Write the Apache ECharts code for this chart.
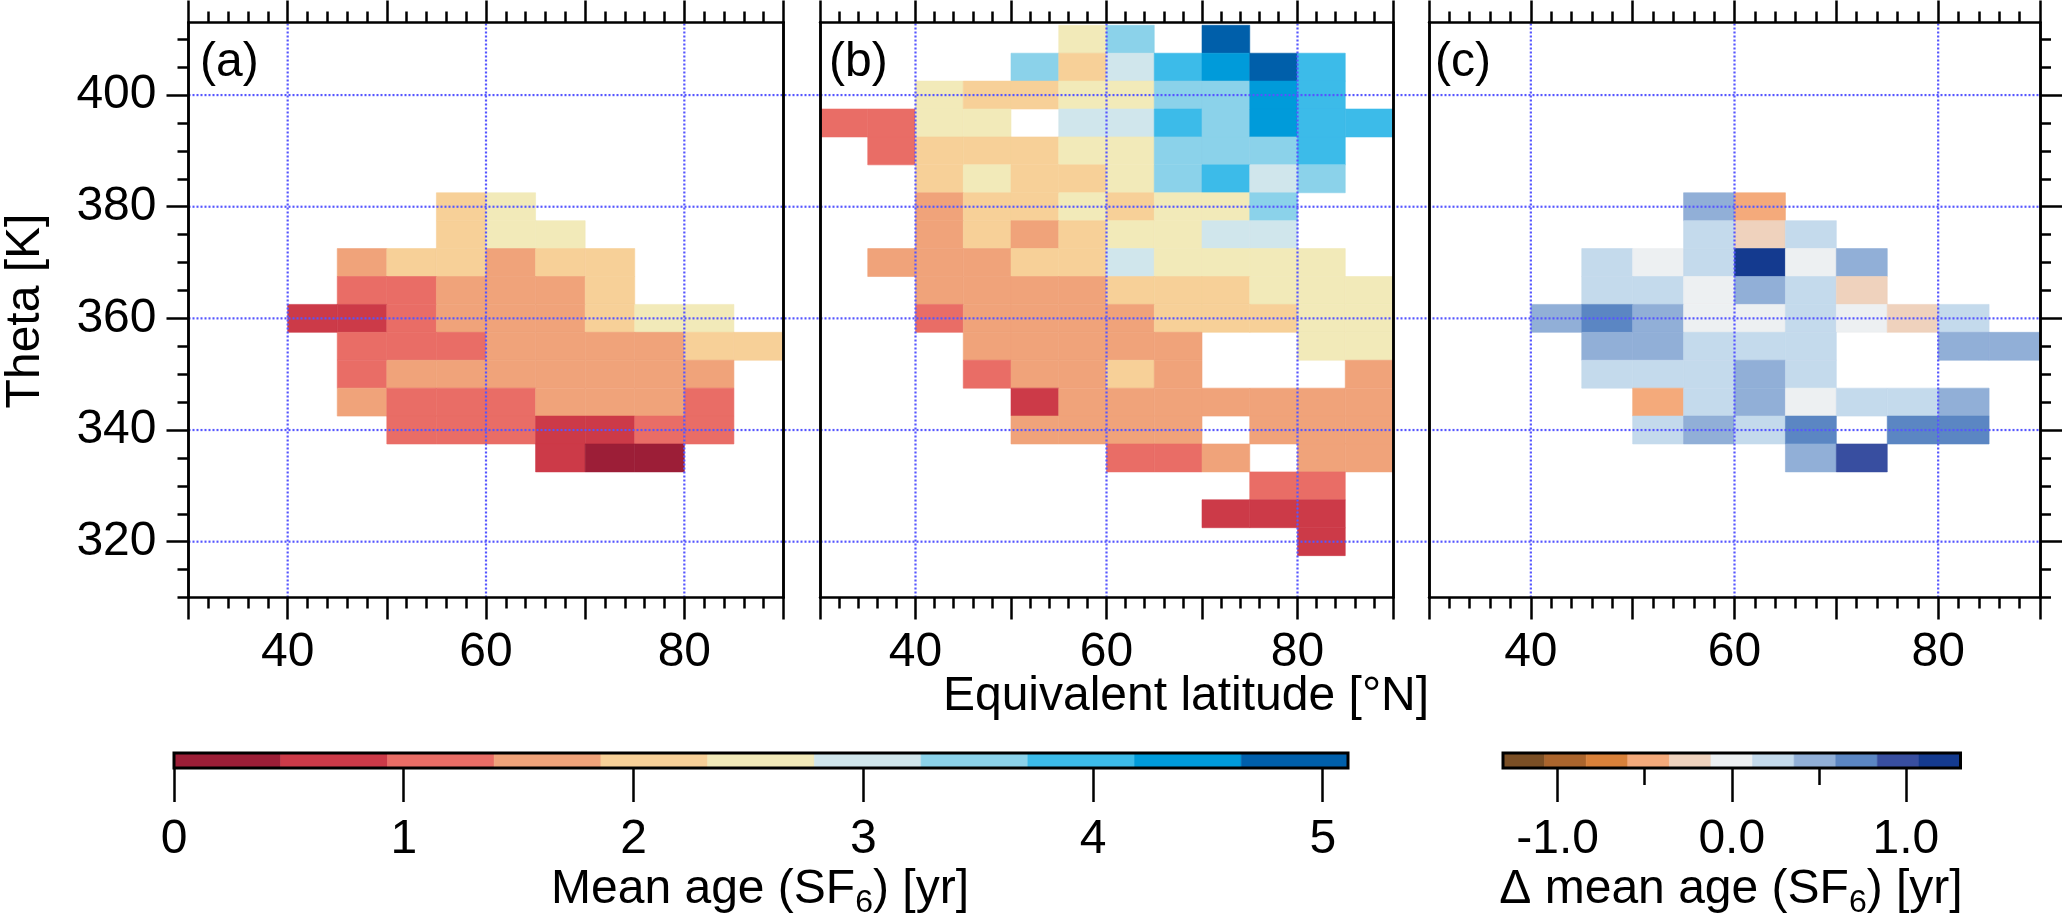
<!DOCTYPE html>
<html>
<head>
<meta charset="utf-8">
<script src="https://cdn.jsdelivr.net/npm/echarts@6/dist/echarts.min.js"></script>
<style>
  html, body { margin: 0; padding: 0; background: #fff; }
  #main { width: 2065px; height: 919px; }
</style>
</head>
<body>
<div id="main"></div>
<script>
const _ = null;

// 5 deg equivalent-latitude bins, 30-90 N (bin centres)
const latCenters = [32.5, 37.5, 42.5, 47.5, 52.5, 57.5, 62.5, 67.5, 72.5, 77.5, 82.5, 87.5];
// theta levels [K], one row per level, top to bottom
const thetaLevels = [410, 405, 400, 395, 390, 385, 380, 375, 370, 365, 360, 355, 350, 345, 340, 335, 330, 325, 320];

// (a) mean age [yr]
const ageA = [
  [_, _, _, _, _, _, _, _, _, _, _, _],
  [_, _, _, _, _, _, _, _, _, _, _, _],
  [_, _, _, _, _, _, _, _, _, _, _, _],
  [_, _, _, _, _, _, _, _, _, _, _, _],
  [_, _, _, _, _, _, _, _, _, _, _, _],
  [_, _, _, _, _, _, _, _, _, _, _, _],
  [_, _, _, _, _, 2.1, 2.5, _, _, _, _, _],
  [_, _, _, _, _, 2.1, 2.5, 2.5, _, _, _, _],
  [_, _, _, 1.6, 2.1, 2.1, 1.6, 2.1, 2.1, _, _, _],
  [_, _, _, 1.2, 1.2, 1.6, 1.6, 1.6, 2.1, _, _, _],
  [_, _, 0.7, 0.7, 1.2, 1.6, 1.6, 1.6, 2.1, 2.5, 2.5, _],
  [_, _, _, 1.2, 1.2, 1.2, 1.6, 1.6, 1.6, 1.6, 2.1, 2.1],
  [_, _, _, 1.2, 1.6, 1.6, 1.6, 1.6, 1.6, 1.6, 1.6, _],
  [_, _, _, 1.6, 1.2, 1.2, 1.2, 1.6, 1.6, 1.6, 1.2, _],
  [_, _, _, _, 1.2, 1.2, 1.2, 0.7, 0.7, 1.2, 1.2, _],
  [_, _, _, _, _, _, _, 0.7, 0.2, 0.2, _, _],
  [_, _, _, _, _, _, _, _, _, _, _, _],
  [_, _, _, _, _, _, _, _, _, _, _, _],
  [_, _, _, _, _, _, _, _, _, _, _, _]
];

// (b) mean age [yr]
const ageB = [
  [_, _, _, _, _, 2.5, 3.5, _, 4.9, _, _, _],
  [_, _, _, _, 3.5, 2.1, 3.0, 3.9, 4.4, 4.9, 3.9, _],
  [_, _, 2.5, 2.1, 2.1, 2.5, 2.5, 3.5, 3.5, 4.4, 3.9, _],
  [1.2, 1.2, 2.5, 2.5, _, 3.0, 3.0, 3.9, 3.5, 4.4, 3.9, 3.9],
  [_, 1.2, 2.1, 2.1, 2.1, 2.5, 2.5, 3.5, 3.5, 3.5, 3.9, _],
  [_, _, 2.1, 2.5, 2.1, 2.1, 2.5, 3.5, 3.9, 3.0, 3.5, _],
  [_, _, 1.6, 2.1, 2.1, 2.5, 2.1, 2.5, 2.5, 3.5, _, _],
  [_, _, 1.6, 2.1, 1.6, 2.1, 2.5, 2.5, 3.0, 3.0, _, _],
  [_, 1.6, 1.6, 1.6, 2.1, 2.1, 3.0, 2.5, 2.5, 2.5, 2.5, _],
  [_, _, 1.6, 1.6, 1.6, 1.6, 2.1, 2.1, 2.1, 2.5, 2.5, 2.5],
  [_, _, 1.2, 1.6, 1.6, 1.6, 1.6, 2.1, 2.1, 2.1, 2.5, 2.5],
  [_, _, _, 1.6, 1.6, 1.6, 1.6, 1.6, _, _, 2.5, 2.5],
  [_, _, _, 1.2, 1.6, 1.6, 2.1, 1.6, _, _, _, 1.6],
  [_, _, _, _, 0.7, 1.6, 1.6, 1.6, 1.6, 1.6, 1.6, 1.6],
  [_, _, _, _, 1.6, 1.6, 1.6, 1.6, _, 1.6, 1.6, 1.6],
  [_, _, _, _, _, _, 1.2, 1.2, 1.6, _, 1.6, 1.6],
  [_, _, _, _, _, _, _, _, _, 1.2, 1.2, _],
  [_, _, _, _, _, _, _, _, 0.7, 0.7, 0.7, _],
  [_, _, _, _, _, _, _, _, _, _, 0.7, _]
];

// (c) delta mean age [yr]
const dAgeC = [
  [_, _, _, _, _, _, _, _, _, _, _, _],
  [_, _, _, _, _, _, _, _, _, _, _, _],
  [_, _, _, _, _, _, _, _, _, _, _, _],
  [_, _, _, _, _, _, _, _, _, _, _, _],
  [_, _, _, _, _, _, _, _, _, _, _, _],
  [_, _, _, _, _, _, _, _, _, _, _, _],
  [_, _, _, _, _, 0.48, -0.48, _, _, _, _, _],
  [_, _, _, _, _, 0.24, -0.24, 0.24, _, _, _, _],
  [_, _, _, 0.24, 0.0, 0.24, 1.2, 0.0, 0.48, _, _, _],
  [_, _, _, 0.24, 0.24, 0.0, 0.48, 0.24, -0.24, _, _, _],
  [_, _, 0.48, 0.72, 0.48, 0.0, 0.0, 0.24, 0.0, -0.24, 0.24, _],
  [_, _, _, 0.48, 0.48, 0.24, 0.24, 0.24, _, _, 0.48, 0.48],
  [_, _, _, 0.24, 0.24, 0.24, 0.48, 0.24, _, _, _, _],
  [_, _, _, _, -0.48, 0.24, 0.48, 0.0, 0.24, 0.24, 0.48, _],
  [_, _, _, _, 0.24, 0.48, 0.24, 0.72, _, 0.72, 0.72, _],
  [_, _, _, _, _, _, _, 0.48, 0.96, _, _, _],
  [_, _, _, _, _, _, _, _, _, _, _, _],
  [_, _, _, _, _, _, _, _, _, _, _, _],
  [_, _, _, _, _, _, _, _, _, _, _, _]
];

// tick values
const latTicks = [40, 60, 80];
const thetaTicks = [320, 340, 360, 380, 400];
const thetaMinorTicks = [310, 315, 320, 325, 330, 335, 340, 345, 350, 355, 360, 365, 370, 375, 380, 385, 390, 395, 400, 405, 410];
const ageTicks = [0, 1, 2, 3, 4, 5];
const dAgeTicks = [-1, 0, 1];
const dAgeMinorTicks = [-0.5, 0.5];

// colour scales (11 levels each)
const ageRange = [0, 5.11];
const ageColors = ['#9c1e37', '#cc3a48', '#e96d66', '#f0a37a', '#f7d098', '#f2eab9',
                   '#d0e6ec', '#8bd2ea', '#3cbbe9', '#009bda', '#005faa'];
const dAgeRange = [-1.314, 1.314];
const dAgeColors = ['#7b4f25', '#ab652d', '#d9813a', '#f4aa7b', '#efd2bd', '#edf0f2',
                    '#c4daec', '#91afd7', '#5b86c3', '#384ea0', '#143a8f'];

const FONT = "'Liberation Sans', Arial, Helvetica, sans-serif";
const GRIDC = '#5555ff';

function binIndex(v, range, n) {
  const w = (range[1] - range[0]) / n;
  return Math.max(0, Math.min(n - 1, Math.floor((v - range[0]) / w)));
}

function toCells(matrix) {
  const out = [];
  matrix.forEach((row, i) => row.forEach((v, j) => {
    if (v !== null) out.push([latCenters[j], thetaLevels[i], v]);
  }));
  return out;
}

var myChart = echarts.init(document.getElementById('main'));

const TOP = 22.5, HEIGHT = 575;
const panels = [
  { left: 188.5, width: 595, data: ageA, range: ageRange, colors: ageColors, leftTicks: true, rightTicks: false, labels: true },
  { left: 820, width: 573, data: ageB, range: ageRange, colors: ageColors, leftTicks: false, rightTicks: false, labels: false },
  { left: 1429, width: 611, data: dAgeC, range: dAgeRange, colors: dAgeColors, leftTicks: false, rightTicks: true, labels: false }
];

const line = { color: '#000', width: 2.5 };
const grids = [{ left: 188.5, top: TOP, width: 2040 - 188.5, height: HEIGHT }];
const xAxes = [{ type: 'value', gridIndex: 0, min: 0, max: 1, show: false }];
const yAxes = [{ type: 'value', gridIndex: 0, min: 310, max: 413, show: false }];
const series = [];
const dotted = { stroke: GRIDC, lineWidth: 2.2, lineDash: [2, 2] };

function latAxis(gi, pos, labels) {
  return {
    type: 'value', gridIndex: gi, position: pos, min: 30, max: 90, interval: 10, z: 5,
    axisLine: { show: true, onZero: false, lineStyle: line },
    axisTick: { show: true, length: 22, lineStyle: line },
    minorTick: { show: true, splitNumber: 5, length: 11, lineStyle: line },
    axisLabel: labels
      ? { show: true, customValues: latTicks, margin: 31, fontSize: 48, color: '#000', fontFamily: FONT }
      : { show: false },
    splitLine: { show: false }, minorSplitLine: { show: false }
  };
}

function thetaAxis(gi, pos, ticks, len, showTicks, labels) {
  return {
    type: 'value', gridIndex: gi, position: pos, min: 310, max: 413, z: 5,
    axisLine: { show: true, onZero: false, lineStyle: line },
    axisTick: { show: showTicks, customValues: ticks, length: len, lineStyle: line },
    axisLabel: labels
      ? { show: true, customValues: thetaTicks, margin: 32, fontSize: 48, color: '#000', fontFamily: FONT }
      : { show: false },
    splitLine: { show: false }
  };
}

panels.forEach((p) => {
  const gi = grids.length;
  grids.push({ left: p.left, top: TOP, width: p.width, height: HEIGHT });
  const xi = xAxes.length;
  xAxes.push(latAxis(gi, 'bottom', true), latAxis(gi, 'top', false));
  const yi = yAxes.length;
  yAxes.push(
    thetaAxis(gi, 'left', thetaMinorTicks, 11, p.leftTicks, p.labels),
    thetaAxis(gi, 'left', thetaTicks, 22, p.leftTicks, false),
    thetaAxis(gi, 'right', thetaMinorTicks, 11, p.rightTicks, false),
    thetaAxis(gi, 'right', thetaTicks, 22, p.rightTicks, false)
  );
  // cells
  series.push({
    type: 'custom', xAxisIndex: xi, yAxisIndex: yi, z: 2, clip: true, silent: true,
    data: toCells(p.data),
    renderItem: function (params, api) {
      const lat = api.value(0), th = api.value(1), v = api.value(2);
      const a = api.coord([lat - 2.5, th + 2.5]);
      const b = api.coord([lat + 2.5, th - 2.5]);
      const c = p.colors[binIndex(v, p.range, p.colors.length)];
      return {
        type: 'rect',
        shape: { x: a[0], y: a[1], width: b[0] - a[0], height: b[1] - a[1] },
        style: { fill: c, stroke: c, lineWidth: 0.6 }
      };
    }
  });
  // dotted latitude grid lines
  series.push({
    type: 'custom', xAxisIndex: xi, yAxisIndex: yi, z: 3, silent: true,
    data: latTicks,
    renderItem: function (params, api) {
      const a = api.coord([api.value(0), 310]);
      const b = api.coord([api.value(0), 413]);
      return { type: 'line', shape: { x1: a[0], y1: a[1], x2: b[0], y2: b[1] }, style: dotted };
    }
  });
});

// dotted theta grid lines running across all three panels
series.push({
  type: 'custom', xAxisIndex: 0, yAxisIndex: 0, z: 3, silent: true,
  data: thetaTicks,
  renderItem: function (params, api) {
    const a = api.coord([0, api.value(0)]);
    const b = api.coord([1, api.value(0)]);
    return { type: 'line', shape: { x1: a[0], y1: a[1], x2: b[0], y2: b[1] }, style: dotted };
  }
});

// colour bars
function colorBar(left, width, range, colors, ticks, minorTicks, fmt) {
  const gi = grids.length;
  grids.push({ left: left, top: 753, width: width, height: 15 });
  const xi = xAxes.length;
  xAxes.push({
    type: 'value', gridIndex: gi, position: 'bottom', min: range[0], max: range[1], z: 5,
    axisLine: { show: false },
    axisTick: { show: true, customValues: ticks, length: 34, lineStyle: { color: '#000', width: 2.5 } },
    axisLabel: { show: true, customValues: ticks, margin: 48, fontSize: 48, color: '#000', fontFamily: FONT, formatter: fmt },
    splitLine: { show: false }
  });
  if (minorTicks) {
    xAxes.push({
      type: 'value', gridIndex: gi, position: 'bottom', min: range[0], max: range[1], z: 5,
      axisLine: { show: false },
      axisTick: { show: true, customValues: minorTicks, length: 17, lineStyle: { color: '#000', width: 2.5 } },
      axisLabel: { show: false }, splitLine: { show: false }
    });
  }
  const yi = yAxes.length;
  yAxes.push({ type: 'value', gridIndex: gi, min: 0, max: 1, show: false });
  const w = (range[1] - range[0]) / colors.length;
  series.push({
    type: 'custom', xAxisIndex: xi, yAxisIndex: yi, z: 2, silent: true,
    data: colors.map((c, i) => [i]),
    renderItem: function (params, api) {
      const i = api.value(0);
      const a = api.coord([range[0] + i * w, 1]);
      const b = api.coord([range[0] + (i + 1) * w, 0]);
      return {
        type: 'rect', shape: { x: a[0], y: a[1], width: b[0] - a[0], height: b[1] - a[1] },
        style: { fill: colors[i], stroke: colors[i], lineWidth: 0.6 }
      };
    }
  });
  series.push({
    type: 'custom', xAxisIndex: xi, yAxisIndex: yi, z: 4, silent: true,
    data: [[0]],
    renderItem: function (params, api) {
      const a = api.coord([range[0], 1]);
      const b = api.coord([range[1], 0]);
      return {
        type: 'rect', shape: { x: a[0], y: a[1], width: b[0] - a[0], height: b[1] - a[1] },
        style: { fill: 'none', stroke: '#000', lineWidth: 3 }
      };
    }
  });
}

colorBar(174, 1174, ageRange, ageColors, ageTicks, null, v => String(v));
colorBar(1503, 457.5, dAgeRange, dAgeColors, dAgeTicks, dAgeMinorTicks, v => v.toFixed(1));

const big = "48px " + FONT;
const rich = {
  m: { fontSize: 48, fontFamily: FONT, lineHeight: 58, fill: '#000' },
  s: { fontSize: 32, fontFamily: FONT, lineHeight: 32, verticalAlign: 'bottom', fill: '#000' }
};

myChart.setOption({
  backgroundColor: '#fff',
  animation: false,
  grid: grids,
  xAxis: xAxes,
  yAxis: yAxes,
  series: series,
  graphic: [
    { type: 'text', x: 200, y: 63, z: 10, style: { text: '(a)', font: big, fill: '#000', textAlign: 'left', textVerticalAlign: 'middle' } },
    { type: 'text', x: 829, y: 63, z: 10, style: { text: '(b)', font: big, fill: '#000', textAlign: 'left', textVerticalAlign: 'middle' } },
    { type: 'text', x: 1435, y: 63, z: 10, style: { text: '(c)', font: big, fill: '#000', textAlign: 'left', textVerticalAlign: 'middle' } },
    { type: 'text', x: 26, y: 311, rotation: Math.PI / 2, z: 10, style: { text: 'Theta [K]', font: big, fill: '#000', textAlign: 'center', textVerticalAlign: 'middle' } },
    { type: 'text', x: 1186, y: 697, z: 10, style: { text: 'Equivalent latitude [°N]', font: big, fill: '#000', textAlign: 'center', textVerticalAlign: 'middle' } },
    { type: 'text', x: 760, y: 890, z: 10, style: { text: '{m|Mean age (SF}{s|6}{m|) [yr]}', rich: rich, textAlign: 'center', textVerticalAlign: 'middle' } },
    { type: 'text', x: 1731, y: 890, z: 10, style: { text: '{m|Δ mean age (SF}{s|6}{m|) [yr]}', rich: rich, textAlign: 'center', textVerticalAlign: 'middle' } }
  ]
});
</script>
</body>
</html>
